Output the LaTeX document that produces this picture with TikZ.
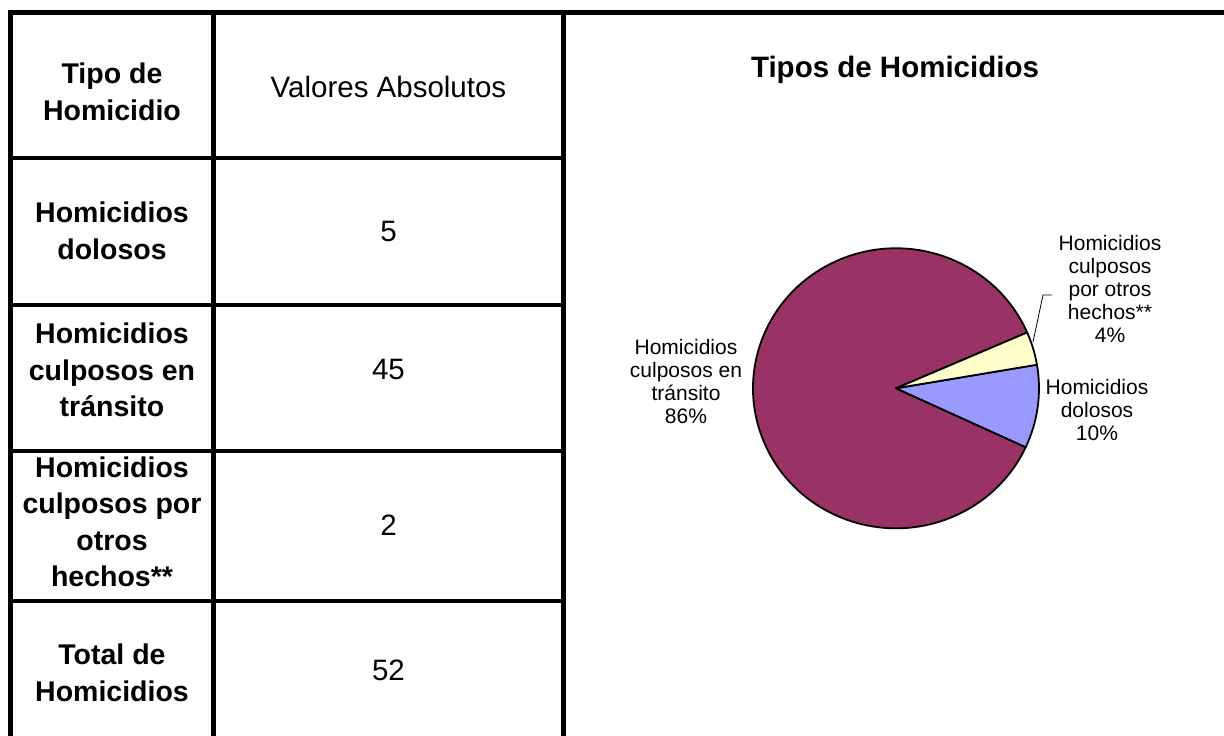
\documentclass[tikz,border=0pt]{standalone}
\usepackage{fontspec}
\setmainfont{Liberation Sans}
\definecolor{pmag}{HTML}{993366}
\definecolor{pyel}{HTML}{FFFFCC}
\definecolor{pblu}{HTML}{9999FF}
\tikzset{
  grid/.style={line width=4.5pt, line cap=rect},
  tbold/.style={font=\fontsize{28.5}{36.5}\selectfont\bfseries, align=center, inner sep=0pt},
  treg/.style={font=\fontsize{29.5}{36.5}\selectfont, align=center, inner sep=0pt},
  ttitle/.style={font=\fontsize{29.5}{36.5}\selectfont\bfseries, align=center, inner sep=0pt},
  plabel/.style={font=\fontsize{21}{23}\selectfont, align=center, inner sep=0pt},
  slice/.style={draw=black, line width=1.8pt, line join=round},
  leader/.style={draw=black, line width=0.8pt}
}
\begin{document}
\begin{tikzpicture}[x=1pt,y=1pt]
\useasboundingbox (0,0) rectangle (1224,736);
\fill[white] (0,0) rectangle (1224,736);
% table grid
\draw[grid] (10.5,723.5) -- (1230,723.5);
\draw[grid] (10.5,723.5) -- (10.5,-5);
\draw[grid] (213.5,723.5) -- (213.5,-5);
\draw[grid] (563.5,723.5) -- (563.5,-5);
\foreach \yy in {578,431,285,135} {\draw[grid] (10.5,\yy) -- (563.5,\yy);}
% table text
\node[tbold] (h1) at (112,644) {Tipo de\\Homicidio};
\node[treg] (h2) at (388.5,649) {Valores Absolutos};
\node[tbold] (r1) at (112,505) {Homicidios\\dolosos};
\node[treg] (v1) at (388.5,504) {5};
\node[tbold] (r2) at (112,366) {Homicidios\\culposos en\\tránsito};
\node[treg] (v2) at (388.5,366) {45};
\node[tbold] (r3) at (112,214) {Homicidios\\culposos por\\otros\\hechos**};
\node[treg] (v3) at (388.5,211) {2};
\node[tbold] (r4) at (112,63) {Total de\\Homicidios};
\node[treg] (v4) at (388.5,66) {52};
% chart
\node[ttitle] (title) at (895,666) {Tipos de Homicidios};
\coordinate (pc) at (896,347.7);
\filldraw[slice, fill=pmag] (pc) -- ++(23.5:143 and 140) arc[start angle=23.5, end angle=335.1, x radius=143, y radius=140] -- cycle;
\filldraw[slice, fill=pblu] (pc) -- ++(-24.9:143 and 140) arc[start angle=-24.9, end angle=9.7, x radius=143, y radius=140] -- cycle;
\filldraw[slice, fill=pyel] (pc) -- ++(9.7:143 and 140) arc[start angle=9.7, end angle=23.5, x radius=143, y radius=140] -- cycle;
\node[plabel] (lt) at (686,355) {Homicidios\\culposos en\\tránsito\\86\%};
\node[plabel] (lo) at (1110,447) {Homicidios\\culposos\\por otros\\hechos**\\4\%};
\node[plabel] (ld) at (1097,326) {Homicidios\\dolosos\\10\%};
\coordinate (la) at (1033,394);
\coordinate (lb) at (1043,441);
\coordinate (lc) at (1052,441);
\draw[leader] (la) -- (lb) -- (lc);
\end{tikzpicture}
\end{document}
